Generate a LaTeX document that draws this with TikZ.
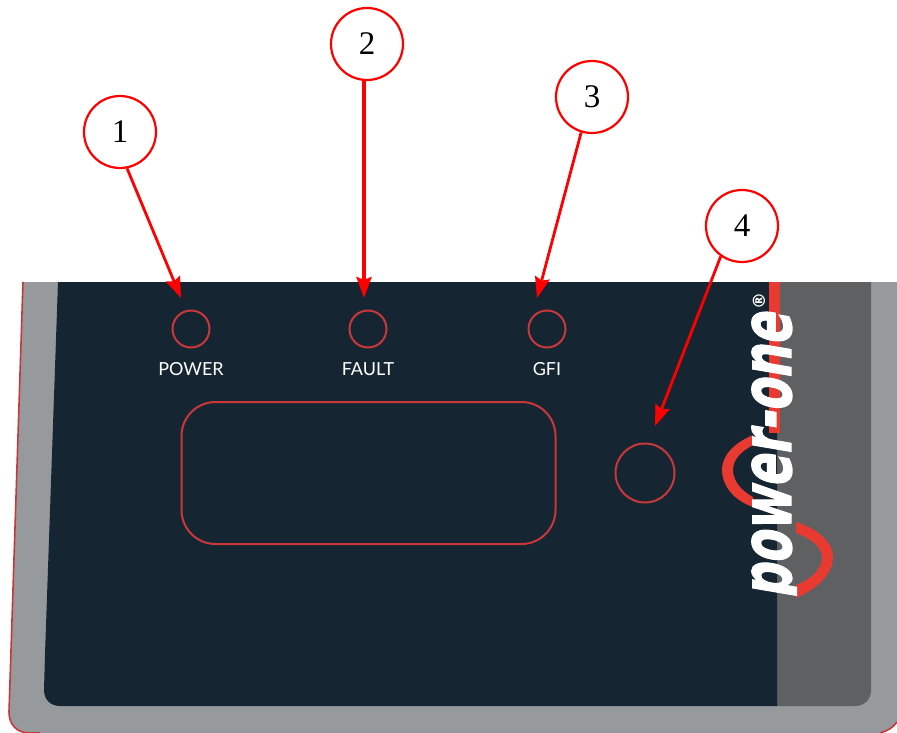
\documentclass[tikz,border=0pt]{standalone}
\usepackage{fontspec}
\setmainfont{Liberation Serif}
\newfontfamily\panelfont{Lato}
\newfontfamily\logofont[FakeBold=2,FakeSlant=0.25]{DejaVu Sans Bold}
\newfontfamily\regfont{DejaVu Sans Bold}
\usetikzlibrary{positioning,arrows.meta}
\definecolor{panelnavy}{HTML}{152632}
\definecolor{panelgrey}{HTML}{969A9D}
\definecolor{stripgrey}{HTML}{5E6062}
\definecolor{markred}{HTML}{C9373B}
\definecolor{logored}{HTML}{E93A32}
\tikzset{
	callout/.style={
		circle,
		draw=red,
		fill=white,
		line width=2.2pt,
		minimum size=72pt,
		inner sep=0pt,
		font=\fontsize{33}{33}\selectfont
	},
	callout arrow/.style={
		red,
		line width=2.8pt,
		-{Stealth[length=21pt,width=15pt,inset=3pt]}
	},
	led/.style={
		circle,
		draw=markred,
		line width=2pt,
		minimum size=37pt,
		inner sep=0pt
	},
	led label/.style={
		text=white,
		inner sep=0pt,
		font=\panelfont\fontsize{18}{18}\selectfont
	}
}
\begin{document}
\begin{tikzpicture}[x=1pt,y=-1pt]
	\useasboundingbox (0,0) rectangle (897,733);
	% housing
	\fill[panelgrey] (880,733) -- (30,733) .. controls (16,733) and (9,724) .. (9,712) -- (23,282) -- (897,282) -- (897,722) .. controls (893,728) and (887,731) .. cycle;
	\draw[markred,line width=1.6pt] (40,733) -- (30,733) .. controls (16,733) and (9,724) .. (9,712) -- (23,282);
	\draw[markred,line width=1.6pt] (897,722) .. controls (893,728) and (887,731) .. (880,733);
	\fill[stripgrey] (777,282) -- (871,282) -- (871,690) .. controls (871,700) and (864,706) .. (855,706) -- (777,706) -- cycle;
	\fill[panelnavy] (58,282) -- (777,282) -- (777,706) -- (60,706) .. controls (50,706) and (44,699) .. (44,690) -- (45,654) -- cycle;
	% logo
	\fill[logored] (769,282) rectangle (780,433);
	\fill[logored] (753,435) .. controls (730,445) and (722,458) .. (722,470) .. controls (722,485) and (733,500) .. (753,507) -- (753,497) .. controls (740,490) and (733,480) .. (733,470) .. controls (733,460) and (740,452) .. (753,445) -- cycle;
	\fill[logored] (796,522) .. controls (820,530) and (833,543) .. (833,557) .. controls (833,575) and (815,590) .. (796,598) -- (796,585) .. controls (810,580) and (822,570) .. (822,557) .. controls (822,547) and (810,538) .. (796,533) -- cycle;
	\begin{scope}
		\clip (745,285) rectangle (797,605);
		\node[rotate=90,text=white,inner sep=0pt,anchor=base,font=\logofont\fontsize{70}{70}\selectfont,xscale=0.68] (logo) at (791,456) {power-one};
	\end{scope}
	\node[rotate=90,text=white,inner sep=0pt,font=\regfont\fontsize{17}{17}\selectfont] (regmark) at (759,301) {®};
	% front panel marks
	\node[led] (ledpower) at (191,329) {};
	\node[led] (ledfault) at (368,329) {};
	\node[led] (ledgfi) at (547,329) {};
	\node[led label] (power) at (191,369) {POWER};
	\node[led label] (fault) at (368,369) {FAULT};
	\node[led label] (gfi) at (547,369) {GFI};
	\node[draw=markred,line width=2pt,rounded corners=34pt,minimum width=374pt,minimum height=142pt] (display) at (368.5,473) {};
	\node[led,minimum size=59pt] (button) at (645,473) {};
	% callouts
	\node[callout] (call1) at (120,132) {1};
	\node[callout] (call2) at (367,44) {2};
	\node[callout] (call3) at (592,97) {3};
	\node[callout] (call4) at (742,226) {4};
	\coordinate (tip1) at (181,298);
	\coordinate (tip2) at (364,298);
	\coordinate (tip3) at (537,298);
	\coordinate (tip4) at (655,426);
	\draw[callout arrow] (call1.-79) -- (tip1);
	\draw[callout arrow,line width=3.6pt] (tip2 |- call2.south) -- (tip2);
	\draw[callout arrow] (call3.-107) -- (tip3);
	\draw[callout arrow] (call4.-125) -- (tip4);
\end{tikzpicture}
\end{document}
